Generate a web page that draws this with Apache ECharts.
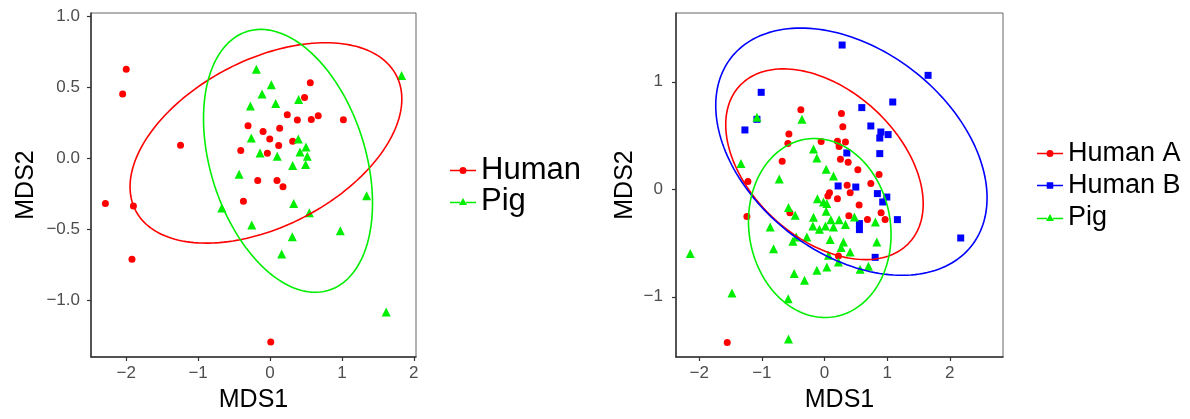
<!DOCTYPE html>
<html>
<head>
<meta charset="utf-8">
<script src="https://cdn.jsdelivr.net/npm/echarts@6/dist/echarts.min.js"></script>
<style>html,body{margin:0;padding:0;background:#fff;}#c{width:1190px;height:419px;}</style>
</head>
<body>
<div id="c"></div>
<script>
// ---------- Left panel data ----------
const leftHuman = [[-2.00,0.624],[-2.05,0.45],[-1.245,0.089],[-2.29,-0.32],[-1.90,-0.337],[0.56,0.53],[0.48,0.426],[0.24,0.304],[0.38,0.267],[0.574,0.271],[0.67,0.297],[1.02,0.269],[-0.306,0.227],[-0.097,0.187],[0.134,0.21],[-0.004,0.133],[0.315,0.117],[0.12,0.087],[-0.407,0.052],[-0.037,0.033],[-0.171,-0.159],[0.097,-0.159],[0.18,-0.203],[-0.37,-0.304],[-1.92,-0.713],[0.01,-1.295]];
const leftPig = [[-0.19,0.624],[0.018,0.515],[-0.111,0.451],[-0.273,0.365],[0.079,0.384],[0.398,0.412],[-0.26,0.14],[0.393,0.133],[0.5,0.077],[-0.139,0.035],[0.417,0.042],[0.518,0.012],[0.10,0.012],[0.315,-0.053],[0.495,-0.046],[-0.43,-0.114],[1.83,0.58],[1.343,-0.266],[0.329,-0.32],[-0.671,-0.351],[0.546,-0.386],[-0.254,-0.472],[0.31,-0.554],[0.977,-0.512],[0.162,-0.675],[1.615,-1.084]];
// ellipse: center [x,y], covariance-like shape [sxx, sxy, syy]
const leftHumanEllipse = {center:[-0.057,0.106], shape:[3.572,0.584,0.497]};
const leftPigEllipse = {center:[0.25,-0.02], shape:[1.381,-0.35,0.855]};
const leftXTicks = [-2,-1,0,1,2];
const leftYTicks = [-1.0,-0.5,0.0,0.5,1.0];
const leftXRange = [-2.49,2.03];
const leftYRange = [-1.40,1.02];

// ---------- Right panel data ----------
const rightHumanA = [[-0.377,0.741],[0.271,0.704],[0.293,0.583],[-0.568,0.514],[-0.584,0.425],[-0.053,0.444],[0.207,0.447],[0.335,0.44],[0.234,0.397],[-0.675,0.26],[0.255,0.279],[0.378,0.251],[0.533,0.183],[0.872,0.137],[-1.222,0.072],[0.362,0.037],[0.74,0.053],[0.41,-0.031],[0.08,-0.031],[0.054,-0.062],[0.207,-0.087],[0.553,-0.146],[-0.552,-0.217],[-1.238,-0.254],[0.389,-0.245],[0.686,-0.282],[0.968,-0.282],[0.904,-0.217],[0.223,-0.62],[-1.552,-1.426]];
const rightHumanB = [[0.282,1.342],[1.654,1.06],[-1.01,0.902],[1.09,0.812],[-1.27,0.552],[-1.078,0.651],[0.596,0.76],[0.74,0.589],[0.9,0.533],[1.016,0.509],[0.883,0.477],[0.357,0.338],[0.883,0.332],[0.218,0.031],[0.5,0.021],[0.845,-0.04],[0.995,-0.072],[0.93,-0.118],[1.164,-0.282],[0.558,-0.319],[0.558,-0.375],[2.175,-0.453],[0.809,-0.633]];
const rightPig = [[-0.36,0.651],[-1.078,0.67],[-0.175,0.375],[-0.121,0.291],[-1.333,0.239],[0.027,0.186],[0.144,0.124],[-0.722,0.096],[-0.112,-0.087],[-0.016,-0.118],[0.038,-0.133],[-0.574,-0.17],[-0.467,-0.242],[-0.175,-0.261],[0.027,-0.205],[0.102,-0.283],[0.234,-0.283],[0.478,-0.258],[0.813,-0.304],[-0.866,-0.351],[-0.185,-0.341],[-0.08,-0.372],[0.016,-0.341],[0.144,-0.351],[0.335,-0.328],[-0.451,-0.443],[-0.281,-0.443],[0.091,-0.468],[0.303,-0.49],[0.836,-0.49],[-0.504,-0.484],[0.266,-0.542],[0.41,-0.583],[-0.813,-0.552],[0.064,-0.614],[0.223,-0.676],[0.702,-0.716],[0.569,-0.744],[0.038,-0.723],[-0.121,-0.753],[-0.483,-0.784],[-2.142,-0.598],[-0.319,-0.847],[-1.477,-0.965],[-0.579,-1.017],[-0.574,-1.393]];
const rightHumanAEllipse = {center:[0.0,0.233], shape:[2.484,-0.58,0.787]};
const rightHumanBEllipse = {center:[0.43,0.35], shape:[4.69,-0.93,1.3225]};
const rightPigEllipse = {center:[-0.075,-0.36], shape:[1.295,-0.07,0.693]};
const rightXTicks = [-2,-1,0,1,2];
const rightYTicks = [-1,0,1];
const rightXRange = [-2.37,2.85];
const rightYRange = [-1.56,1.64];

// ---------- helpers ----------
function ellipsePath(e){
  const [sxx,sxy,syy] = e.shape;
  const a = Math.sqrt(sxx), b = sxy/a, c = Math.sqrt(syy - b*b);
  const pts = [];
  for(let i=0;i<=180;i++){
    const t = 2*Math.PI*i/180;
    const u = Math.cos(t), v = Math.sin(t);
    pts.push([e.center[0] + a*u, e.center[1] + b*u + c*v]);
  }
  return pts;
}
const RED='#ff0000', GREEN='#00ee00', BLUE='#0000ff';
const FONT='Liberation Sans, Arial, sans-serif';
const minus = s => String(s).replace('-', '\u2212');

function xAxis(idx, range, ticks, fmt){
  return {
    type:'value', gridIndex:idx, min:range[0], max:range[1],
    name:'MDS1', nameLocation:'middle', nameGap:31,
    nameTextStyle:{fontFamily:FONT,fontSize:25,color:'#000'},
    axisLine:{show:true,onZero:false,lineStyle:{color:'#333',width:1.5}},
    axisTick:{show:true,length:4,customValues:ticks,lineStyle:{color:'#333',width:1.2}},
    axisLabel:{customValues:ticks,margin:8,fontFamily:FONT,fontSize:17,color:'#4d4d4d',formatter:v=>minus(fmt(v))},
    splitLine:{show:false}
  };
}
function yAxis(idx, range, ticks, fmt, gap, margin){
  return {
    type:'value', gridIndex:idx, min:range[0], max:range[1],
    name:'MDS2', nameLocation:'middle', nameGap:gap, nameRotate:90,
    nameTextStyle:{fontFamily:FONT,fontSize:25,color:'#000'},
    axisLine:{show:true,onZero:false,lineStyle:{color:'#333',width:1.5}},
    axisTick:{show:true,length:4,customValues:ticks,lineStyle:{color:'#333',width:1.2}},
    axisLabel:{customValues:ticks,margin:margin,fontFamily:FONT,fontSize:17,color:'#4d4d4d',formatter:v=>minus(fmt(v))},
    splitLine:{show:false}
  };
}
function pts(name, data, xi, symbol, size, color){
  return {type:'scatter', name:name, xAxisIndex:xi, yAxisIndex:xi, data:data,
    symbol:symbol, symbolSize:size, itemStyle:{color:color, opacity:1}, silent:true, z:2};
}
function ell(name, e, xi, color){
  return {type:'line', name:name, xAxisIndex:xi, yAxisIndex:xi, data:ellipsePath(e),
    showSymbol:false, symbol:'none', smooth:false, lineStyle:{color:color,width:1.6}, itemStyle:{color:color}, silent:true, z:3};
}
const ICON_CIRCLE='path://M0,3 L9.6,3 L9.6,4.5 L0,4.5 Z M16.4,3 L26,3 L26,4.5 L16.4,4.5 Z M9.5,3.75 A3.5,3.5 0 0 1 16.5,3.75 A3.5,3.5 0 0 1 9.5,3.75 Z';
const ICON_SQUARE='path://M0,3 L9.8,3 L9.8,4.5 L0,4.5 Z M16.2,3 L26,3 L26,4.5 L16.2,4.5 Z M9.75,0.5 L16.25,0.5 L16.25,7 L9.75,7 Z';
const ICON_TRI='path://M0,4.25 L10,4.25 L10,5.75 L0,5.75 Z M16,4.25 L26,4.25 L26,5.75 L16,5.75 Z M13,0.5 L17,7.5 L9,7.5 Z';

const chart = echarts.init(document.getElementById('c'), null, {renderer:'canvas'});
chart.setOption({
  animation:false,
  backgroundColor:'#fff',
  grid:[
    {left:91, top:13, width:325, height:344, show:true, borderColor:'#666', borderWidth:1, backgroundColor:'#fff'},
    {left:676, top:13, width:327, height:344, show:true, borderColor:'#666', borderWidth:1, backgroundColor:'#fff'}
  ],
  xAxis:[ xAxis(0,leftXRange,leftXTicks,v=>String(v)), xAxis(1,rightXRange,rightXTicks,v=>String(v)) ],
  yAxis:[ yAxis(0,leftYRange,leftYTicks,v=>v.toFixed(1),52,11), yAxis(1,rightYRange,rightYTicks,v=>String(v),38,13) ],
  legend:[
    {orient:'vertical', left:450, top:155, padding:0, itemGap:0, itemWidth:26, itemHeight:8, selectedMode:false,
     textStyle:{fontFamily:FONT,fontSize:31,color:'#000'},
     data:[{name:'Human',icon:ICON_CIRCLE},{name:'Pig',icon:ICON_TRI}]},
    {orient:'vertical', left:1037, top:140, padding:0, itemGap:5, itemWidth:26, itemHeight:8, selectedMode:false,
     textStyle:{fontFamily:FONT,fontSize:27,color:'#000'},
     data:[{name:'Human A',icon:ICON_CIRCLE},{name:'Human B',icon:ICON_SQUARE},{name:'Pig',icon:ICON_TRI}]}
  ],
  series:[
    pts('Human', leftHuman, 0, 'circle', 7, RED),
    pts('Pig', leftPig, 0, 'triangle', 9, GREEN),
    ell('Human ellipse', leftHumanEllipse, 0, RED),
    ell('Pig ellipse', leftPigEllipse, 0, GREEN),
    pts('Human A', rightHumanA, 1, 'circle', 7, RED),
    pts('Human B', rightHumanB, 1, 'rect', 7, BLUE),
    pts('Pig', rightPig, 1, 'triangle', 9, GREEN),
    ell('Human A ellipse', rightHumanAEllipse, 1, RED),
    ell('Human B ellipse', rightHumanBEllipse, 1, BLUE),
    ell('Pig ellipse R', rightPigEllipse, 1, GREEN)
  ]
});
</script>
</body>
</html>
